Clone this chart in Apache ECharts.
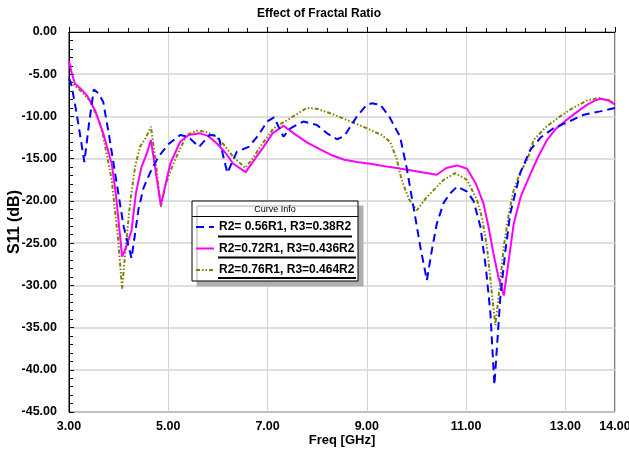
<!DOCTYPE html>
<html>
<head>
<meta charset="utf-8">
<script src="https://cdn.jsdelivr.net/npm/echarts@6/dist/echarts.min.js"></script>
<style>html,body{margin:0;padding:0;background:#fff;}#c{width:629px;height:452px;}</style>
</head>
<body>
<div id="c"></div>
<script>
const seriesNames = ['R2= 0.56R1, R3=0.38R2', 'R2=0.72R1, R3=0.436R2', 'R2=0.76R1, R3=0.464R2'];
const yTicks = [-45, -40, -35, -30, -25, -20, -15, -10, -5, 0];
const xTicks = [3, 5, 7, 9, 11, 13, 14];

const blueFreq = [3.00,3.05,3.15,3.31,3.40,3.50,3.60,3.69,3.80,3.95,4.10,4.26,4.40,4.50,4.63,4.80,5.00,5.24,5.40,5.62,5.83,6.01,6.19,6.38,6.62,6.82,6.99,7.13,7.32,7.46,7.72,7.99,8.20,8.40,8.55,8.80,9.00,9.10,9.27,9.45,9.67,9.80,9.94,10.08,10.21,10.32,10.41,10.55,10.68,10.82,11.02,11.15,11.29,11.40,11.49,11.57,11.69,11.79,11.89,12.09,12.29,12.50,12.76,13.00,13.37,13.70,14.00];
const blueS11 = [-5.5,-6.3,-9.5,-15.4,-11.0,-6.8,-7.3,-8.3,-12.0,-17.5,-23.0,-26.8,-21.0,-18.5,-16.7,-14.8,-13.3,-12.2,-12.4,-13.6,-12.2,-12.3,-16.7,-14.2,-13.6,-12.2,-10.6,-10.1,-12.4,-11.4,-10.6,-11.0,-12.0,-12.7,-12.3,-10.0,-8.6,-8.45,-8.6,-10.0,-12.4,-16.0,-20.7,-25.5,-29.4,-25.5,-22.7,-20.2,-19.1,-18.3,-18.9,-20.0,-23.1,-28.0,-33.3,-41.8,-31.4,-26.0,-21.5,-16.7,-14.0,-12.5,-11.4,-10.8,-9.8,-9.4,-9.0];

const magentaFreq = [3.00,3.06,3.12,3.25,3.36,3.52,3.69,3.86,3.95,4.07,4.15,4.26,4.35,4.46,4.56,4.65,4.85,5.04,5.24,5.41,5.64,5.80,5.98,6.15,6.31,6.56,6.75,6.92,7.10,7.32,7.55,7.80,8.06,8.30,8.53,8.80,9.07,9.47,9.90,10.41,10.60,10.82,11.02,11.20,11.35,11.45,11.55,11.65,11.76,11.86,11.96,12.10,12.29,12.45,12.63,12.80,13.03,13.25,13.44,13.60,13.71,13.87,14.00];
const magentaS11 = [-3.4,-5.0,-6.1,-6.8,-7.5,-9.2,-12.0,-15.6,-19.5,-26.6,-25.5,-23.5,-19.0,-16.0,-14.5,-12.8,-20.5,-15.6,-13.0,-12.2,-12.0,-12.3,-13.2,-14.3,-15.6,-16.6,-15.0,-13.6,-12.0,-11.1,-12.1,-13.1,-13.9,-14.6,-15.1,-15.4,-15.6,-16.0,-16.4,-16.9,-16.1,-15.8,-16.2,-18.0,-20.3,-23.0,-26.2,-29.0,-31.2,-27.0,-22.7,-19.5,-16.9,-14.8,-12.8,-11.5,-10.4,-9.4,-8.6,-8.1,-7.9,-8.1,-8.6];

const oliveFreq = [3.00,3.22,3.42,3.62,3.69,3.86,3.99,4.07,4.15,4.23,4.33,4.43,4.55,4.65,4.75,4.85,4.95,5.10,5.37,5.57,5.75,5.91,6.10,6.31,6.55,6.70,6.85,7.12,7.46,7.79,8.00,8.30,8.67,9.00,9.30,9.47,9.60,9.70,9.85,10.01,10.20,10.35,10.55,10.78,11.02,11.22,11.32,11.42,11.52,11.59,11.68,11.76,11.86,11.96,12.10,12.23,12.36,12.60,12.89,13.15,13.44,13.67,13.90,14.00];
const oliveS11 = [-5.7,-6.9,-8.1,-10.8,-12.4,-17.5,-24.6,-30.4,-25.0,-20.3,-16.0,-13.6,-12.5,-11.2,-15.5,-20.7,-18.0,-15.6,-12.2,-11.7,-11.8,-12.2,-13.2,-14.8,-16.1,-15.0,-13.6,-11.4,-10.2,-9.0,-9.1,-9.7,-10.6,-11.4,-12.2,-13.0,-15.0,-17.5,-19.8,-21.1,-19.6,-18.7,-17.5,-16.7,-17.5,-19.9,-22.0,-25.4,-31.0,-34.7,-30.0,-25.4,-21.5,-18.7,-16.5,-15.2,-12.8,-11.3,-10.0,-9.0,-8.1,-7.8,-8.1,-8.6];

function zip(a, b) { return a.map((v, i) => [v, b[i]]); }

const FONT = '"Liberation Sans", Arial, sans-serif';
const chart = echarts.init(document.getElementById('c'), null, { renderer: 'canvas' });

chart.setOption({
  backgroundColor: '#ffffff',
  animation: false,
  title: {
    text: 'Effect of Fractal Ratio',
    left: 257, top: 8, padding: 0,
    textStyle: { fontFamily: FONT, fontWeight: 'bold', fontSize: 12, color: '#000' }
  },
  grid: {
    left: 69, right: 14, top: 32, bottom: 40,
    outerBoundsMode: 'none', containLabel: false,
    show: true, borderColor: '#000', borderWidth: 1, backgroundColor: 'transparent'
  },
  xAxis: {
    type: 'value', min: xTicks[0], max: xTicks[xTicks.length - 1], interval: 2,
    name: 'Freq [GHz]', nameLocation: 'middle', nameGap: 22, nameMoveOverlap: false,
    nameTextStyle: { fontFamily: FONT, fontWeight: 'bold', fontSize: 13, color: '#000' },
    axisLine: { show: true, lineStyle: { color: '#000', width: 1 } },
    axisTick: { show: true, inside: true, length: 5, lineStyle: { color: '#000' } },
    minorTick: { show: true, splitNumber: 5, length: 4, lineStyle: { color: '#000' } },
    axisLabel: {
      fontFamily: FONT, fontWeight: 'bold', fontSize: 12.5, color: '#000', margin: 8,
      showMinLabel: true, showMaxLabel: true, hideOverlap: false,
      formatter: v => Number(v).toFixed(2)
    },
    splitLine: { show: true, lineStyle: { color: '#d4d4d4', width: 1 } }
  },
  yAxis: {
    type: 'value', min: yTicks[0], max: yTicks[yTicks.length - 1], interval: 5,
    name: 'S11 (dB)', nameLocation: 'middle', nameGap: 46, nameRotate: 90, nameMoveOverlap: false,
    nameTextStyle: { fontFamily: FONT, fontWeight: 'bold', fontSize: 16, color: '#000' },
    axisLine: { show: true, lineStyle: { color: '#000', width: 1 } },
    axisTick: { show: true, inside: true, length: 5, lineStyle: { color: '#000' } },
    minorTick: { show: true, splitNumber: 5, length: 4, lineStyle: { color: '#000' } },
    axisLabel: {
      fontFamily: FONT, fontWeight: 'bold', fontSize: 12.5, color: '#000', margin: 12,
      hideOverlap: false,
      formatter: v => Number(v).toFixed(2)
    },
    splitLine: { show: true, lineStyle: { color: '#d4d4d4', width: 1.5 } }
  },
  legend: {
    orient: 'vertical', left: 195, top: 220, z: 30,
    itemWidth: 18, itemHeight: 14, itemGap: 7.5,
    padding: 0,
    selectedMode: false,
    itemStyle: { opacity: 0, borderWidth: 0 },
    textStyle: { fontFamily: FONT, fontWeight: 'bold', fontSize: 12, color: '#000', lineHeight: 14 },
    data: seriesNames
  },
  graphic: [
    { type: 'rect', z: 25, shape: { x: 192, y: 201, width: 166, height: 80 },
      style: { fill: '#fff', stroke: '#000', lineWidth: 1, shadowColor: '#b0b0b0', shadowOffsetX: 5, shadowOffsetY: 5, shadowBlur: 0 } },
    { type: 'line', z: 26, shape: { x1: 192, y1: 216.5, x2: 358, y2: 216.5 }, style: { stroke: '#000', lineWidth: 1 } },
    { type: 'text', z: 26, x: 275, y: 209.5, style: { text: 'Curve Info', fontFamily: FONT, fontSize: 9, fill: '#000', align: 'center', verticalAlign: 'middle' } },
    { type: 'line', z: 31, shape: { x1: 218, y1: 236.5, x2: 352, y2: 236.5 }, style: { stroke: '#000', lineWidth: 2 } },
    { type: 'line', z: 31, shape: { x1: 218, y1: 257.5, x2: 356, y2: 257.5 }, style: { stroke: '#000', lineWidth: 2 } },
    { type: 'line', z: 31, shape: { x1: 218, y1: 278, x2: 356, y2: 278 }, style: { stroke: '#000', lineWidth: 2 } }
  ],
  series: [
    { name: seriesNames[0], type: 'line', symbol: 'none', z: 4,
      data: zip(blueFreq, blueS11),
      lineStyle: { color: '#0000ff', width: 2, type: [8, 5] }, itemStyle: { color: '#0000ff' } },
    { name: seriesNames[1], type: 'line', symbol: 'none', z: 3,
      data: zip(magentaFreq, magentaS11),
      lineStyle: { color: '#ff00ff', width: 2 }, itemStyle: { color: '#ff00ff' } },
    { name: seriesNames[2], type: 'line', symbol: 'none', z: 2,
      data: zip(oliveFreq, oliveS11),
      lineStyle: { color: '#808000', width: 2, type: [4, 2, 1.5, 2, 1.5, 2] }, itemStyle: { color: '#808000' } }
  ]
});
</script>
</body>
</html>
